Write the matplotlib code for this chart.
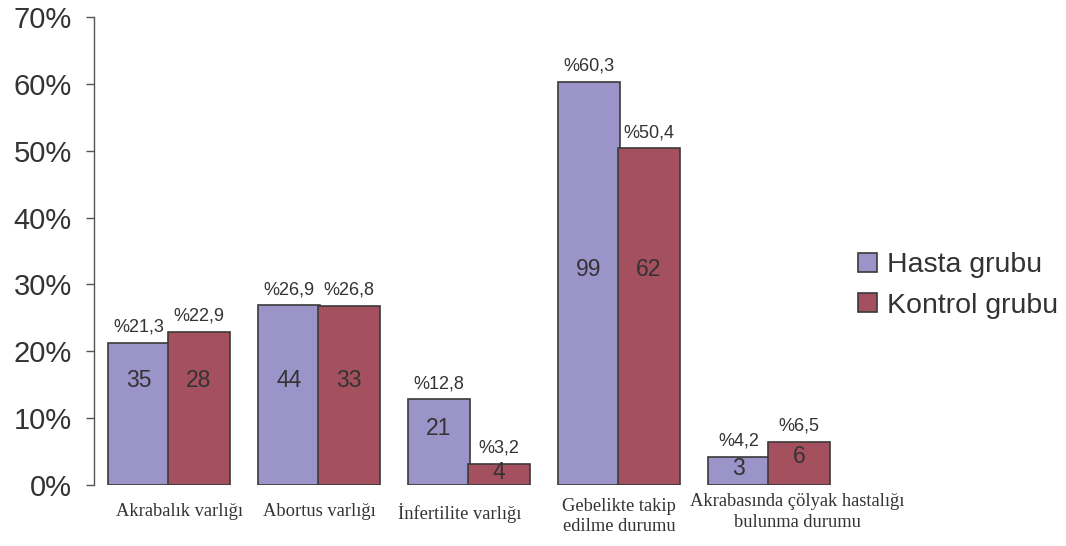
import numpy as np
import matplotlib
matplotlib.use("Agg")
import matplotlib.pyplot as plt

# categories and group percentages / counts
categories = ["Akrabalık varlığı", "Abortus varlığı", "İnfertilite varlığı",
              "Gebelikte takip\nedilme durumu", "Akrabasında çölyak hastalığı\nbulunma durumu"]
hasta_pct = [21.3, 26.9, 12.8, 60.3, 4.2]
kontrol_pct = [22.9, 26.8, 3.2, 50.4, 6.5]
hasta_n = [35, 44, 21, 99, 3]
kontrol_n = [28, 33, 4, 62, 6]
series_names = ["Hasta grubu", "Kontrol grubu"]

# vertical anchor of the count labels inside the bars (axis units)
hasta_lbl_y = [15.7, 15.7, 8.5, 32.2, 2.4]
kontrol_lbl_y = [15.7, 15.7, 1.8, 32.2, 4.3]
# nudges for the category captions (x in data units, y in points)
cat_dx = [0.067, 0.0, -0.06, 0.0, 0.19]
cat_dy = [-13, -13, -13, -9, -6]

purple = "#9b94c8"
wine = "#a5505f"
edge = "#3a3a3a"
txt = "#333333"

fig = plt.figure(figsize=(10.66, 5.46), dpi=100)
ax = fig.add_axes([0.0882, 0.1117, 0.7035, 0.8572])

x = np.arange(len(categories))
w = 0.41
b1 = ax.bar(x - 0.2, hasta_pct, w, color=purple, edgecolor=edge, linewidth=1.2, label=series_names[0])
b2 = ax.bar(x + 0.2, kontrol_pct, w, color=wine, edgecolor=edge, linewidth=1.2, label=series_names[1])

for bars, pcts, ns, ly in [(b1, hasta_pct, hasta_n, hasta_lbl_y), (b2, kontrol_pct, kontrol_n, kontrol_lbl_y)]:
    for r, p, n, yy in zip(bars, pcts, ns, ly):
        cx = r.get_x() + r.get_width() / 2
        ax.annotate("%" + str(p).replace(".", ","), (cx, p), xytext=(0, 5), textcoords="offset points",
                    ha="center", va="bottom", fontsize=13, color=txt, family="Liberation Sans")
        ax.text(cx, yy, str(n), ha="center", va="center", fontsize=16.5, color=txt, family="Liberation Sans")

ax.set_xlim(-0.5, 4.5)
ax.set_ylim(0, 70)
ax.set_yticks(range(0, 71, 10))
ax.set_yticklabels([f"{v}%" for v in range(0, 71, 10)], fontsize=21, color=txt, family="Liberation Sans")
ax.tick_params(axis="y", length=6, width=1, color="#555555", pad=10)

ax.set_xticks([])
for xi, lab, dx, dy in zip(x, categories, cat_dx, cat_dy):
    ax.annotate(lab, (xi + dx, 0), xycoords=("data", "axes fraction"), xytext=(0, dy),
                textcoords="offset points", ha="center", va="top", multialignment="center",
                fontsize=13.3, color=txt, family="Liberation Serif", linespacing=1.25)

for s in ["top", "right", "bottom"]:
    ax.spines[s].set_visible(False)
ax.spines["left"].set_color("#555555")
ax.spines["left"].set_linewidth(1)

leg = fig.legend(handles=[b1, b2], loc="center left", bbox_to_anchor=(0.781, 0.477), frameon=False,
                 prop={"family": "Liberation Sans", "size": 20.5}, handlelength=0.65, handleheight=0.65,
                 handletextpad=0.35, labelspacing=0.5, labelcolor=txt)

fig.savefig("out.png", dpi=100)
